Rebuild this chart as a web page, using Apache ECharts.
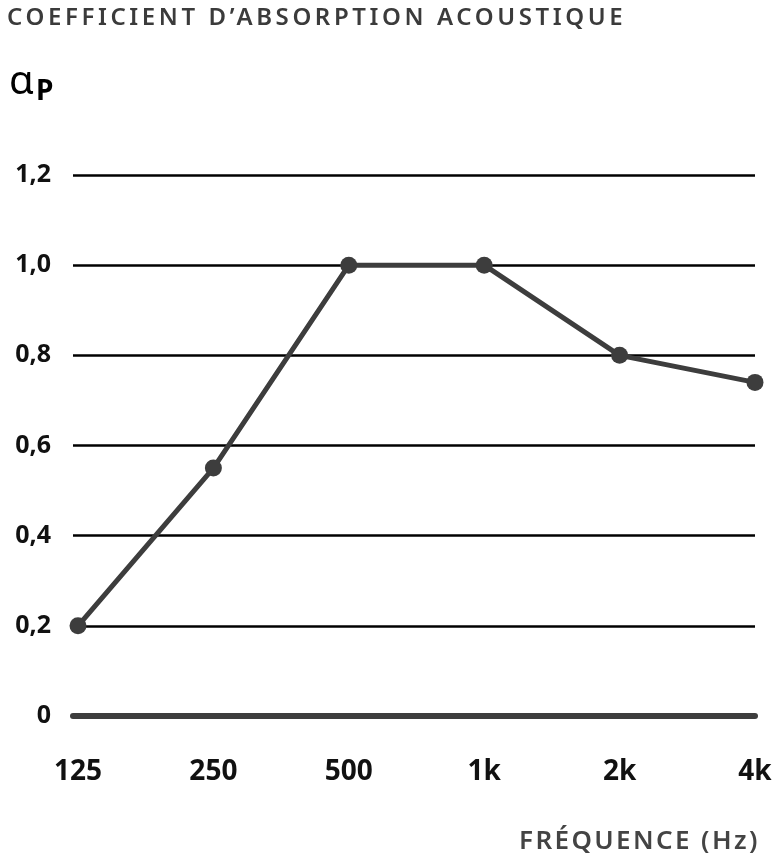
<!DOCTYPE html>
<html>
<head>
<meta charset="utf-8">
<script src="https://cdn.jsdelivr.net/npm/echarts@6/dist/echarts.min.js"></script>
<style>
html,body{margin:0;padding:0;background:#fff;}
#c{width:782px;height:862px;}
</style>
</head>
<body>
<div id="c"></div>
<script>
const categories = ['125', '250', '500', '1k', '2k', '4k'];
const values = [0.2, 0.55, 1.0, 1.0, 0.8, 0.74];
const yTicks = [0, 0.2, 0.4, 0.6, 0.8, 1.0, 1.2];

const TITLE = 'COEFFICIENT D\u2019ABSORPTION ACOUSTIQUE';
const XNAME = 'FR\u00c9QUENCE (Hz)';

// letter tracking for the two headings only (canvas letterSpacing)
const tracking = { [TITLE]: '3.6px', [XNAME]: '2.4px' };
const origFill = CanvasRenderingContext2D.prototype.fillText;
CanvasRenderingContext2D.prototype.fillText = function (t, x, y, w) {
  if ('letterSpacing' in this) {
    const want = tracking[t] || '0px';
    if (this.letterSpacing !== want) {
      const f = this.font;
      this.letterSpacing = want;
      this.font = f;
    }
  }
  const r = w === undefined ? origFill.call(this, t, x, y) : origFill.call(this, t, x, y, w);
  if ('letterSpacing' in this && this.letterSpacing !== '0px') {
    const f = this.font;
    this.letterSpacing = '0px';
    this.font = f;
  }
  return r;
};

const chart = echarts.init(document.getElementById('c'));
const FONT = 'Noto Sans';
chart.setOption({
  animation: false,
  backgroundColor: '#fff',
  graphic: [
    { type: 'text', left: 7, top: 6, style: { text: TITLE, font: '600 24px "Noto Sans"', fill: '#3b3b3b' } },
    { type: 'text', left: 9, top: 63, style: { text: '{a|\u03b1}{p|P}', rich: { a: { fontSize: 40, fontFamily: FONT, color: '#3b3b3b' }, p: { fontSize: 28, fontWeight: 'bold', fontFamily: FONT, color: '#3b3b3b', padding: [18, 0, 0, 2] } } } },
    { type: 'text', left: 519, top: 829, style: { text: XNAME, font: '600 26px "Noto Sans"', fill: '#444' } }
  ],
  grid: { left: 73, right: 27, top: 175, bottom: 146 },
  xAxis: {
    type: 'value', min: -0.0369, max: 5,
    axisLine: { show: true, onZero: false, lineStyle: { color: '#3d3d3d', width: 6 } },
    axisTick: { show: false },
    splitLine: { show: false },
    axisLabel: {
      customValues: categories.map((c, i) => i),
      formatter: v => categories[Math.round(v)] || '',
      margin: 42, fontSize: 28, fontWeight: 'bold', fontFamily: FONT, color: '#111'
    }
  },
  yAxis: {
    type: 'value', min: 0, max: 1.2, interval: 0.2,
    axisLine: { show: false }, axisTick: { show: false },
    splitLine: { lineStyle: { color: '#000', width: 2.5 } },
    axisLabel: {
      margin: 22, fontSize: 25, fontWeight: 'bold', fontFamily: FONT, color: '#111',
      formatter: v => { const t = yTicks.find(x => Math.abs(x - v) < 1e-6); return t === 0 ? '0' : (t !== undefined ? t.toFixed(1).replace('.', ',') : ''); }
    }
  },
  series: [{
    type: 'line',
    data: values.map((v, i) => [i, v]),
    symbol: 'circle', symbolSize: 17,
    lineStyle: { color: '#3d3d3d', width: 5 },
    itemStyle: { color: '#3d3d3d' }
  }]
});
</script>
</body>
</html>
